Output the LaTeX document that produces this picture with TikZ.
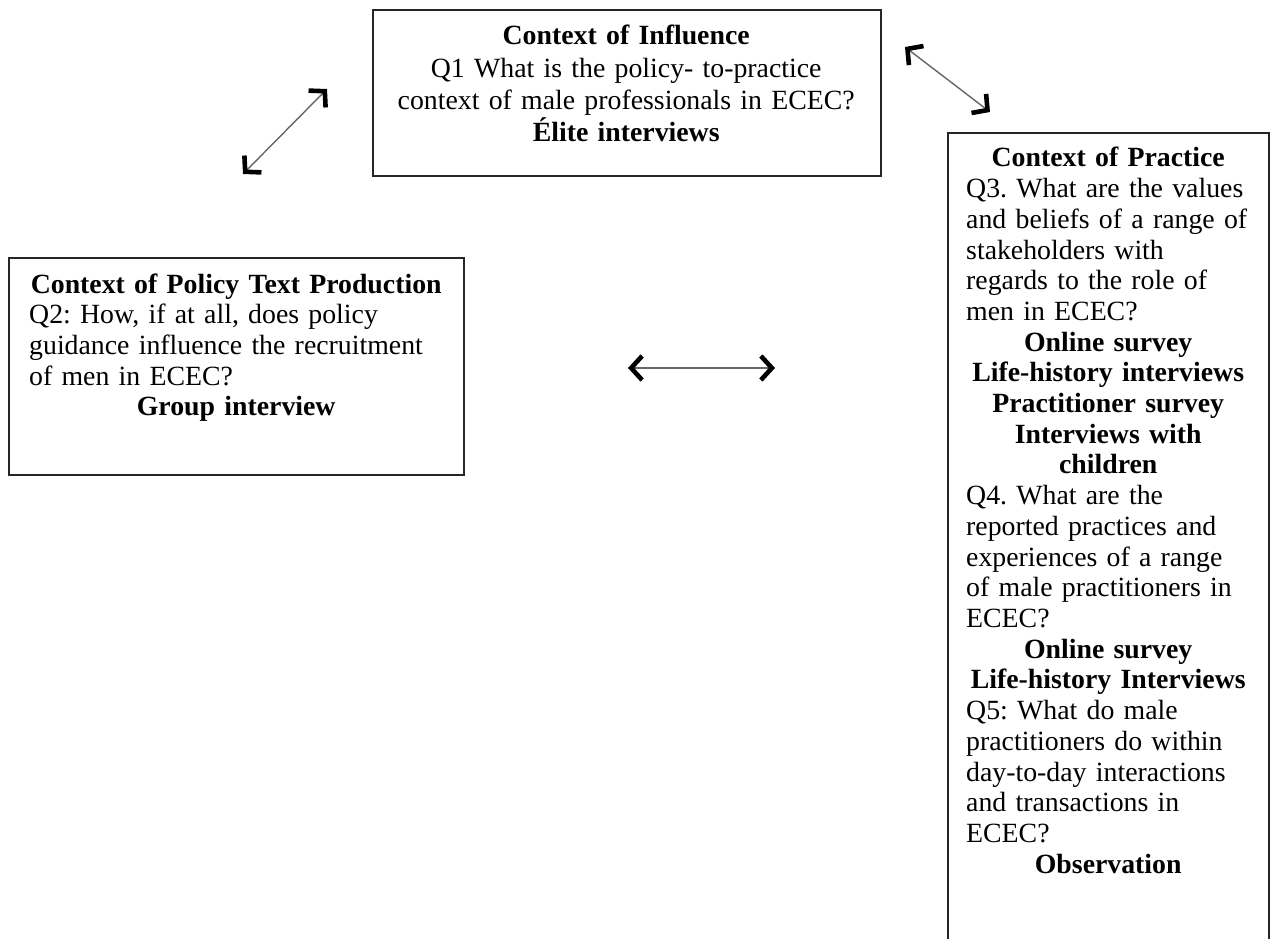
\documentclass[tikz,border=0pt]{standalone}
\usepackage{fontspec}
\setmainfont{Liberation Serif}
\usetikzlibrary{arrows.meta}
\newcommand{\ctrline}[1]{\makebox[\linewidth][c]{\bfseries #1}\par}
\newcommand{\ctrplain}[1]{\makebox[\linewidth][c]{#1}\par}
\newcommand{\lftline}[1]{\makebox[\linewidth][l]{#1}\par}
\tikzset{
  boxframe/.style={draw=black!85, line width=1.6pt, inner sep=0pt, anchor=north west},
  boxtext/.style={inner sep=0pt, anchor=base west, align=left,
    font=\fontsize{27.8}{30.7}\selectfont\frenchspacing},
  dblarrow/.style={line width=1.4pt, draw=black!60,
    {Straight Barb[length=11pt,width=24pt,line width=4.6pt,color=black]}-{Straight Barb[length=11pt,width=24pt,line width=4.6pt,color=black]}}
}
\begin{document}
\begin{tikzpicture}[x=1pt,y=-1pt]
\useasboundingbox (0,0) rectangle (1274,939);
\fill[white] (0,0) rectangle (1274,939);

% boxes
\node[boxframe, minimum width=508pt, minimum height=166pt] (influence) at (372,9) {};
\node[boxframe, minimum width=455pt, minimum height=217pt] (policy) at (8,257) {};
\node[boxframe, minimum width=321pt, minimum height=840pt] (practice) at (947,132) {};

% texts
\node[boxtext, text width=508pt, font=\fontsize{27.8}{32.3}\selectfont\frenchspacing] (influencetext) at (372,45)
  {\ctrline{Context of Influence}
   \ctrplain{Q1 What is the policy- to-practice}
   \ctrplain{context of male professionals in ECEC?}
   \ctrline{Élite interviews}};

\node[boxtext, text width=414pt] (policytext) at (29,293)
  {\ctrline{Context of Policy Text Production}
   \lftline{Q2: How, if at all, does policy}
   \lftline{guidance influence the recruitment}
   \lftline{of men in ECEC?}
   \ctrline{Group interview}};

\node[boxtext, text width=284pt] (practicetext) at (966,167)
  {\ctrline{Context of Practice}
   \lftline{Q3. What are the values}
   \lftline{and beliefs of a range of}
   \lftline{stakeholders with}
   \lftline{regards to the role of}
   \lftline{men in ECEC?}
   \ctrline{Online survey}
   \ctrline{Life-history interviews}
   \ctrline{Practitioner survey}
   \ctrline{Interviews with}
   \ctrline{children}
   \lftline{Q4. What are the}
   \lftline{reported practices and}
   \lftline{experiences of a range}
   \lftline{of male practitioners in}
   \lftline{ECEC?}
   \ctrline{Online survey}
   \ctrline{Life-history Interviews}
   \lftline{Q5: What do male}
   \lftline{practitioners do within}
   \lftline{day-to-day interactions}
   \lftline{and transactions in}
   \lftline{ECEC?}
   \ctrline{Observation}};

% arrows
\coordinate (a1s) at (243,174);
\coordinate (a1e) at (327,89);
\coordinate (a2s) at (905,47);
\coordinate (a2e) at (990,112);
\coordinate (a3s) at (628,368);
\coordinate (a3e) at (775,368);
\draw[dblarrow] (a1s) -- (a1e);
\draw[dblarrow] (a2s) -- (a2e);
\draw[dblarrow] (a3s) -- (a3e);
\end{tikzpicture}
\end{document}
